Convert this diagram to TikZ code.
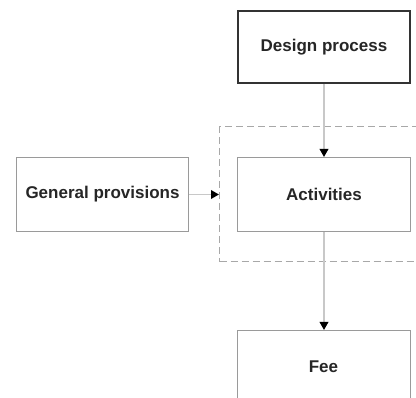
\documentclass[tikz,border=0pt]{standalone}
\usepackage{fontspec}
\setmainfont{Liberation Sans}
\usetikzlibrary{arrows.meta}
\definecolor{boxgray}{HTML}{9A9A9A}
\definecolor{linegray}{HTML}{C8C8C8}
\definecolor{dashgray}{HTML}{A8A8A8}
\begin{document}
\begin{tikzpicture}[x=1pt,y=-1pt,
  label text/.style={font=\bfseries\fontsize{17}{20}\selectfont, text=black!85},
  box/.style={draw=boxgray, line width=1pt, minimum width=173pt, minimum height=74pt,
    inner sep=0pt, label text},
  mainbox/.style={box, draw=black!80, line width=2pt},
  group/.style={draw=dashgray, dashed, dash pattern=on 7pt off 4pt, line width=1pt},
  link/.style={draw=linegray, line width=1.8pt,
    -{Triangle[length=8pt,width=8.5pt,color=black]}}]
  \useasboundingbox (0,0) rectangle (416,398);
  \clip (0,0) rectangle (416,398);
  % dashed grouping frame around the activities
  \node[group, minimum width=230pt, minimum height=135pt, anchor=north west, inner sep=0pt]
    (grp) at (219,126.5) {};
  % boxes
  \node[mainbox, anchor=north west, minimum width=172pt, minimum height=72pt] (design) at (237,10) {Design process};
  \node[box, anchor=north west] (act) at (237,157) {Activities};
  \node[box, anchor=north west, minimum width=172pt] (gen) at (16,157) {General provisions};
  \node[box, anchor=north west, minimum height=100pt] (fee) at (237,330) {};
  \node[label text] (feelabel) at (323.5,366.5) {Fee};
  % connectors
  \draw[link] (design.south) -- (act.north);
  \draw[link] (gen.east) -- (gen.east -| grp.west);
  \draw[link] (act.south) -- (fee.north);
\end{tikzpicture}
\end{document}
